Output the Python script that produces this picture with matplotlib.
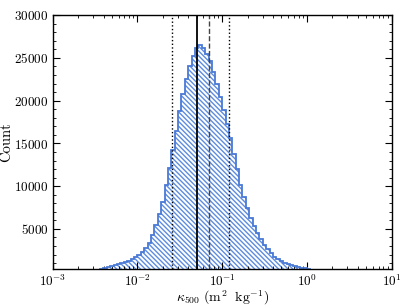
import numpy as np
import matplotlib
matplotlib.use("Agg")
import matplotlib.pyplot as plt
from matplotlib.ticker import MultipleLocator, LogLocator, FixedLocator

plt.rcParams['font.family'] = 'serif'
plt.rcParams['font.serif'] = ['cmr10', 'DejaVu Serif']
plt.rcParams['mathtext.fontset'] = 'cm'
plt.rcParams['axes.formatter.use_mathtext'] = True
plt.rcParams['axes.unicode_minus'] = False
plt.rcParams['hatch.linewidth'] = 1.0

# log10(kappa) bin edges, 0.04 dex wide
log_edges = np.arange(-2.44, 0.0401, 0.04)
counts = [300, 430, 520, 620, 740, 860, 980, 1120, 1280, 1460,
          1680, 1950, 2300, 2750, 3400, 4300, 5500, 6700, 8200, 10100,
          12100, 14200, 16500, 18800, 20800, 22500, 24000, 25200, 26100, 26500,
          26200, 25500, 24600, 23400, 22000, 20400, 18900, 17300, 15600, 13800,
          12000, 10100, 8700, 7400, 6300, 5300, 4500, 3800, 3100, 2600,
          2150, 1750, 1450, 1250, 1050, 880, 740, 620, 520, 450,
          390, 320]

median = 0.051
mean = 0.0705
lo_hi = [0.0258, 0.121]

edges = 10 ** log_edges
centers = np.sqrt(edges[:-1] * edges[1:])

fig = plt.figure(figsize=(4.11, 3.08), dpi=100)
ax = fig.add_axes([0.128, 0.127, 0.825, 0.824])

ax.hist(centers, bins=edges, weights=counts, histtype='stepfilled',
        facecolor='white', edgecolor='#5d8ce0', hatch='\\' * 7, lw=0)
ax.hist(centers, bins=edges, weights=counts, histtype='step',
        color='#4a7ad6', lw=1.3)

ax.axvline(median, color='black', lw=1.3)
ax.axvline(mean, color='#444444', lw=1.0, ls='--')
for v in lo_hi:
    ax.axvline(v, color='black', lw=1.0, ls=':')

ax.set_xscale('log')
ax.set_xlim(1e-3, 1e1)
ax.set_ylim(330, 30000)
ax.yaxis.set_major_locator(FixedLocator([5000, 10000, 15000, 20000, 25000, 30000]))
ax.yaxis.set_minor_locator(MultipleLocator(1000))
ax.xaxis.set_major_locator(LogLocator(base=10, numticks=10))
ax.xaxis.set_minor_locator(LogLocator(base=10, subs=np.arange(2, 10), numticks=20))

ax.tick_params(which='both', direction='in', top=True, right=True, labelsize=9.5)
ax.tick_params(which='major', length=5, width=0.8, pad=3)
ax.tick_params(which='minor', length=2.5, width=0.6)
for s in ax.spines.values():
    s.set_linewidth(1.0)

ax.set_xlabel(r'$\kappa_{500}\ (\mathrm{m}^2\ \ \mathrm{kg}^{-1})$', fontsize=10, labelpad=0)
ax.set_ylabel('Count', fontsize=10.5, labelpad=1)

fig.savefig('out.png', dpi=100)
